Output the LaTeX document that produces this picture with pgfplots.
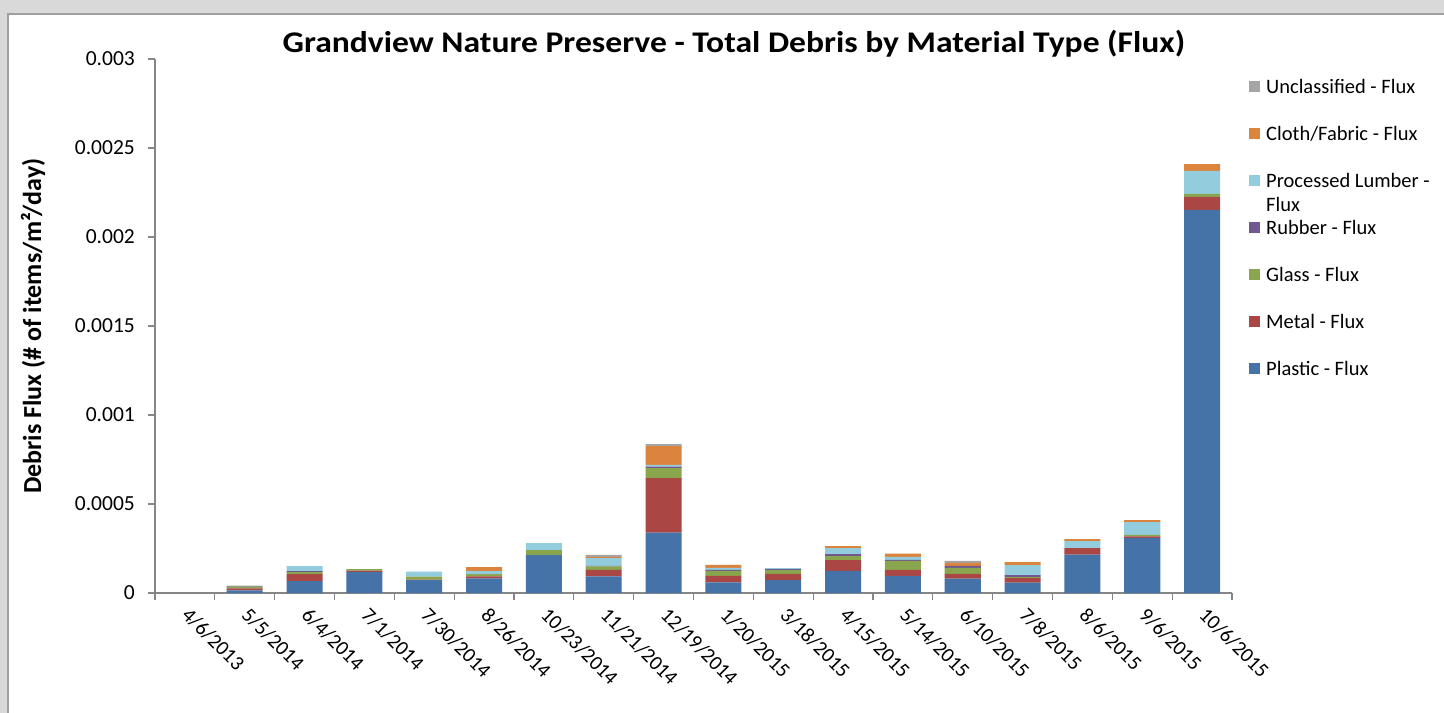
\documentclass[border=0pt]{standalone}
\usepackage{fontspec}
\setmainfont{Carlito}
\usepackage{graphicx}
\usepackage{pgfplots}
\usepackage{pgfplotstable}
\pgfplotsset{compat=1.18}

\definecolor{plastic}{HTML}{4572A7}
\definecolor{metal}{HTML}{AA4643}
\definecolor{glass}{HTML}{89A54E}
\definecolor{rubber}{HTML}{71588F}
\definecolor{lumber}{HTML}{93CDDD}
\definecolor{cloth}{HTML}{DB843D}
\definecolor{unclass}{HTML}{A5A5A5}
\definecolor{axisgray}{HTML}{868686}
\definecolor{bggray}{HTML}{D9D9D9}
\definecolor{framegray}{HTML}{A0A0A0}

% flux values, items/m^2/day
\pgfplotstableread{
idx pl      me      gl      ru      lu      cl      un
0   0       0       0       0       0       0       0
1   1.5e-5  1.1e-5  1.0e-5  0.3e-5  0       0       0.2e-5
2   6.7e-5  3.9e-5  1.1e-5  0.56e-5 2.8e-5  0       0
3   11.8e-5 0.75e-5 0.9e-5  0       0       0       0
4   7.3e-5  0.2e-5  1.7e-5  0       2.8e-5  0       0
5   8.2e-5  1.1e-5  1.3e-5  0       1.7e-5  2.2e-5  0
6   21.3e-5 0       2.8e-5  0       3.9e-5  0       0
7   9.4e-5  3.6e-5  1.9e-5  0.4e-5  4.3e-5  0.75e-5 1.1e-5
8   33.9e-5 30.7e-5 5.6e-5  0.75e-5 1.1e-5  10.5e-5 1.1e-5
9   6.0e-5  3.6e-5  2.8e-5  0.56e-5 1.1e-5  1.7e-5  0
10  7.3e-5  3.4e-5  2.2e-5  0.56e-5 0.56e-5 0       0
11  12.5e-5 6.0e-5  2.2e-5  1.1e-5  3.4e-5  1.1e-5  0
12  9.6e-5  3.4e-5  5.1e-5  0.56e-5 1.7e-5  1.7e-5  0
13  8.1e-5  2.6e-5  3.4e-5  1.1e-5  0       1.7e-5  1.1e-5
14  5.8e-5  2.6e-5  0.56e-5 1.1e-5  5.6e-5  1.7e-5  0
15  21.5e-5 3.7e-5  0       0       3.9e-5  1.1e-5  0
16  30.9e-5 0.9e-5  0.9e-5  0       7.1e-5  1.1e-5  0
17  215.2e-5 7.3e-5 1.7e-5  0       12.9e-5 3.9e-5  0
}\flux

\begin{document}
\begin{tikzpicture}
  % window frame around the chart
  \fill[bggray] (-155bp,-120bp) rectangle (1289bp,593bp);
  \fill[white] (-147bp,-120bp) rectangle (1289bp,579bp);
  \draw[framegray, line width=1.2bp] (-147bp,-120bp) -- (-147bp,579bp) -- (1289bp,579bp);

  \begin{axis}[
      scale only axis,
      width=1077bp, height=534bp,
      ybar stacked,
      bar width=36bp,
      xmin=-0.5, xmax=17.5,
      ymin=0, ymax=0.003,
      scaled y ticks=false,
      /pgf/number format/assume math mode=true,
      axis x line*=bottom,
      axis y line*=left,
      axis line style={draw=axisgray, line width=1.3bp},
      tick align=outside,
      major tick length=7bp,
      minor tick length=7bp,
      xtick={0,...,17},
      xticklabels={4/6/2013, 5/5/2014, 6/4/2014, 7/1/2014, 7/30/2014,
        8/26/2014, 10/23/2014, 11/21/2014, 12/19/2014, 1/20/2015,
        3/18/2015, 4/15/2015, 5/14/2015, 6/10/2015, 7/8/2015,
        8/6/2015, 9/6/2015, 10/6/2015},
      minor xtick={-0.5,0.5,...,17.5},
      major x tick style={draw=none},
      minor x tick style={draw=axisgray, line width=1.3bp},
      ytick={0,0.0005,0.001,0.0015,0.002,0.0025,0.003},
      yticklabels={0,0.0005,0.001,0.0015,0.002,0.0025,0.003},
      y tick style={draw=axisgray, line width=1.3bp},
      xticklabel style={font=\fontsize{20.5bp}{24bp}\selectfont,
        xshift=6bp, yshift=-6bp, rotate=-45, anchor=north west, inner sep=0pt},
      yticklabel style={font=\fontsize{21.5bp}{25bp}\selectfont,
        anchor=east, inner sep=0pt, xshift=-13bp},
      title={\scalebox{1.12}[1]{Grandview Nature Preserve - Total Debris by Material Type (Flux)}},
      title style={font=\bfseries\fontsize{30bp}{34bp}\selectfont,
        at={(axis description cs:0.5376,1.0112)}, anchor=base, inner sep=0pt, yshift=-5bp},
      ylabel={Debris Flux (\# of items/m²/day)},
      every axis y label/.style={at={(axis description cs:-0.1133,0.5)},
        rotate=90, anchor=center, font=\bfseries\fontsize{26bp}{30bp}\selectfont},
      reverse legend,
      legend image code/.code={\fill[#1] (0bp,1bp) rectangle (11bp,12bp);},
      legend style={at={(axis description cs:1.0158,0.9644)}, anchor=north west,
        draw=none, fill=none, inner sep=0pt, row sep=27bp, column sep=6bp,
        font=\fontsize{20.5bp}{24bp}\selectfont,
        cells={anchor=base west},
        nodes={inner sep=0pt, text height=15bp, text depth=5bp}},
    ]
    \addplot[fill=plastic, draw=none] table[x=idx, y=pl] {\flux};
    \addlegendentry{Plastic - Flux}
    \addplot[fill=metal, draw=none] table[x=idx, y=me] {\flux};
    \addlegendentry{Metal - Flux}
    \addplot[fill=glass, draw=none] table[x=idx, y=gl] {\flux};
    \addlegendentry{Glass - Flux}
    \addplot[fill=rubber, draw=none] table[x=idx, y=ru] {\flux};
    \addlegendentry{Rubber - Flux}
    \addplot[fill=lumber, draw=none] table[x=idx, y=lu] {\flux};
    \addlegendentry{\smash{\makebox[0pt][l]{\raisebox{-24bp}{Flux}}}Processed Lumber -}
    \addplot[fill=cloth, draw=none] table[x=idx, y=cl] {\flux};
    \addlegendentry{Cloth/Fabric - Flux}
    \addplot[fill=unclass, draw=none] table[x=idx, y=un] {\flux};
    \addlegendentry{Unclassified - Flux}
  \end{axis}
  \pgfresetboundingbox
  \useasboundingbox (-155bp,-120bp) rectangle (1289bp,593bp);
\end{tikzpicture}
\end{document}
